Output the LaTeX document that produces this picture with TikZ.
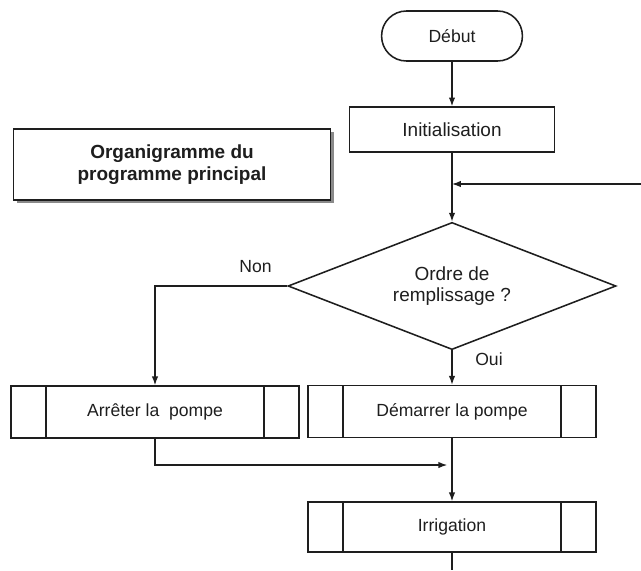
\documentclass[tikz,border=0pt]{standalone}
\usepackage{fontspec}
\setmainfont{Liberation Sans}
\usepackage{tikz}
\usetikzlibrary{arrows.meta,calc,positioning,shadows,shapes.geometric}
\definecolor{ink}{HTML}{1E1E1E}
\definecolor{shade}{HTML}{8A8A8A}
\tikzset{
  >={Latex[length=2.2mm,width=1.6mm]},
  flow/.style={->,line width=0.9pt,draw=ink},
  wire/.style={line width=0.9pt,draw=ink},
  base/.style={draw=ink,line width=1.1pt,align=center,inner sep=0pt,
               font=\fontsize{12.5}{15}\selectfont,text=ink},
  terminal/.style={base,rounded corners=6.2mm,minimum width=3.52cm,minimum height=1.25cm},
  action/.style={base,font=\fontsize{13.5}{16}\selectfont,minimum width=5.12cm,minimum height=1.12cm},
  test/.style={base,diamond,aspect=2.6,font=\fontsize{13.5}{15.5}\selectfont,
               minimum width=8.2cm,minimum height=3.18cm},
  subroutine/.style={base,minimum width=7.2cm,minimum height=1.3cm,
     path picture={\draw[line width=1.1pt,draw=ink]
        ([xshift=8.8mm]path picture bounding box.north west) -- ([xshift=8.8mm]path picture bounding box.south west)
        ([xshift=-8.8mm]path picture bounding box.north east) -- ([xshift=-8.8mm]path picture bounding box.south east);}},
  banner/.style={base,font=\fontsize{13.5}{16}\selectfont\bfseries,minimum width=7.92cm,minimum height=1.78cm,
     fill=white,drop shadow={shadow xshift=0.8mm,shadow yshift=-0.8mm,fill=shade,opacity=1}},
  answer/.style={font=\fontsize{12.5}{15}\selectfont,text=ink}
}
\begin{document}
\begin{tikzpicture}[x=0.25mm,y=-0.25mm]
  \useasboundingbox (0,0) rectangle (641,570);
  % main column
  \node[terminal] (debut) at (452,36) {Début};
  \node[action] (init) at (452,129.5) {Initialisation};
  \node[banner] (titre) at (172,164.5) {Organigramme du\\programme principal};
  \node[test] (ordre) at (452,286) {Ordre de\\remplissage ?};
  \node[subroutine] (arret) at (155,412) {Arrêter la\ \ pompe};
  \node[subroutine] (marche) at (452,411.5) {Démarrer la pompe};
  \node[subroutine,minimum height=1.25cm] (irrig) at (452,527) {Irrigation};
  \coordinate (retour) at (641,184);
  \coordinate (jonction) at (452,465);
  \coordinate (suite) at (452,570);
  % connectors
  \draw[flow] (debut) -- (init);
  \draw[flow] (init) -- (ordre);
  \draw[flow] (retour) -- (retour -| init.south);
  \draw[flow] (ordre.west) -| node[answer,pos=0.12,above=2mm]{Non} (arret.north);
  \draw[flow] (ordre.south) -- node[answer,pos=0.27,right=4.5mm]{Oui} (marche.north);
  \draw[flow] (arret.south) |- ([xshift=-1.2mm]jonction);
  \draw[flow] (marche) -- (irrig);
  \draw[wire] (irrig) -- (suite);
\end{tikzpicture}
\end{document}
